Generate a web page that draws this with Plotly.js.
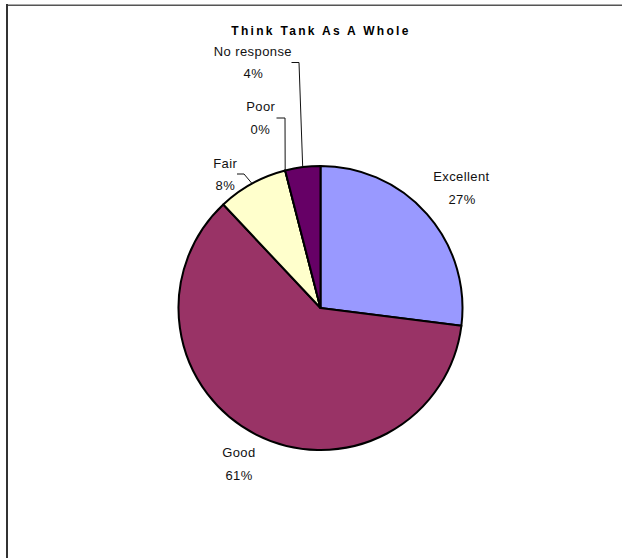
<!DOCTYPE html>
<html>
<head>
<meta charset="utf-8">
<script src="https://cdn.plot.ly/plotly-3.0.1.min.js"></script>
<style>
  html, body { margin: 0; padding: 0; background: #fff; }
  #chart { width: 622px; height: 558px; }
  #chart .gtitle { letter-spacing: 2.3px; }
  #chart .annotation-text { letter-spacing: 0.4px; }
</style>
</head>
<body>
<div id="chart"></div>
<script>
// Ratings for the think tank as a whole (percent of responses)
var categories = ['Excellent', 'Good', 'Fair', 'Poor', 'No response'];
var percents   = [27, 61, 8, 0, 4];
var sliceColors = ['#9999FF', '#993366', '#FFFFCC', '#CCFFFF', '#660066'];

// Canvas geometry in pixels
var W = 622, H = 558;
var cx = 320.5, cy = 308, R = 142;

function px(x) { return x / W; }
function py(y) { return 1 - y / H; }

// Where each label block sits (pixel centre of the two text lines) and,
// for the crowded small slices, where its elbow leader line turns.
var labelSpots = [
  { x: 461.5, y: 188,   leader: null },
  { x: 239,   y: 464,   leader: null },
  { x: 225,   y: 174,   leader: { startX: 237,   elbowX: 244 } },
  { x: 260.5, y: 118,   leader: { startX: 276.5, elbowX: 285 } },
  { x: 253,   y: 62.5,  leader: { startX: 291.5, elbowX: 299 } }
];
var lineGap = 11;

var total = percents.reduce(function (a, b) { return a + b; }, 0);

var annotations = [];
var shapes = [];

var cum = 0;
percents.forEach(function (v, i) {
  var mid = (cum + v / 2) / total;
  cum += v;
  var theta = 2 * Math.PI * mid;
  var edgeX = cx + R * Math.sin(theta);
  var edgeY = cy - R * Math.cos(theta);
  var spot = labelSpots[i];
  var pct = Math.round(v / total * 100) + '%';
  var font = { family: 'Liberation Sans, Arial, sans-serif', size: 13, color: '#111' };

  annotations.push({
    xref: 'paper', yref: 'paper', x: px(spot.x), y: py(spot.y - lineGap),
    xanchor: 'center', yanchor: 'middle', showarrow: false,
    text: categories[i], font: font
  });
  annotations.push({
    xref: 'paper', yref: 'paper', x: px(spot.x), y: py(spot.y + lineGap),
    xanchor: 'center', yanchor: 'middle', showarrow: false,
    text: pct, font: font
  });

  if (spot.leader) {
    var l = spot.leader;
    shapes.push({
      type: 'path', xref: 'paper', yref: 'paper',
      path: 'M ' + px(l.startX) + ' ' + py(spot.y) +
            ' L ' + px(l.elbowX) + ' ' + py(spot.y) +
            ' L ' + px(edgeX) + ' ' + py(edgeY),
      line: { color: '#111', width: 1 }
    });
  }
});

// Chart-area frame (top and left edges)
shapes.push({ type: 'line', xref: 'paper', yref: 'paper',
  x0: px(6), x1: px(W), y0: py(4.5), y1: py(4.5),
  line: { color: '#a8a8a8', width: 1 } });
shapes.push({ type: 'line', xref: 'paper', yref: 'paper',
  x0: px(6), x1: px(W), y0: py(5.5), y1: py(5.5),
  line: { color: '#555', width: 1 } });
shapes.push({ type: 'line', xref: 'paper', yref: 'paper',
  x0: px(7), x1: px(7), y0: py(4), y1: py(H),
  line: { color: '#333', width: 2 } });

var trace = {
  type: 'pie',
  labels: categories,
  values: percents,
  sort: false,
  direction: 'clockwise',
  rotation: 0,
  textinfo: 'none',
  hoverinfo: 'label+percent',
  showlegend: false,
  marker: { colors: sliceColors, line: { color: '#000', width: 2 } },
  domain: { x: [px(cx - R), px(cx + R)], y: [py(cy + R), py(cy - R)] }
};

var layout = {
  width: W, height: H,
  margin: { l: 0, r: 0, t: 0, b: 0, pad: 0 },
  paper_bgcolor: '#fff',
  title: {
    text: '<b>Think Tank As A Whole</b>',
    font: { family: 'Liberation Sans, Arial, sans-serif', size: 12, color: '#000' },
    x: px(321), y: py(31), xref: 'paper', yref: 'paper',
    xanchor: 'center', yanchor: 'middle'
  },
  annotations: annotations,
  shapes: shapes
};

Plotly.newPlot('chart', [trace], layout, { displayModeBar: false, staticPlot: true });
</script>
</body>
</html>
